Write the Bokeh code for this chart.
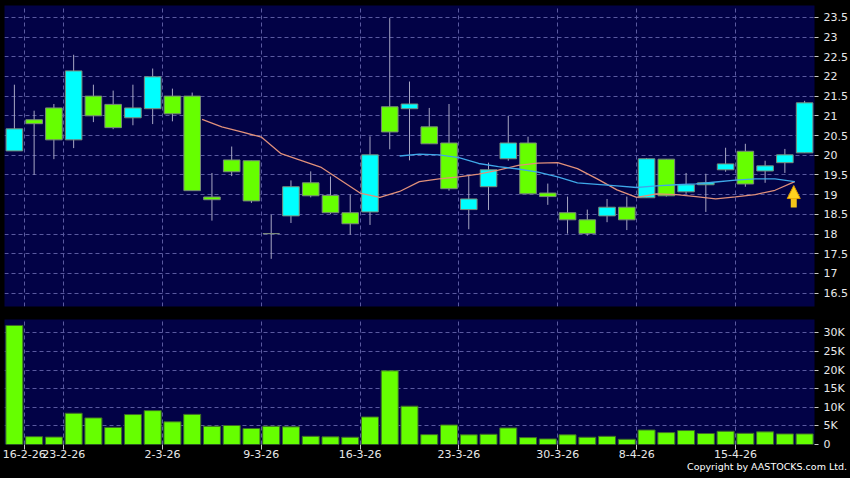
from bokeh.plotting import figure
from bokeh.layouts import column
from bokeh.models import (ColumnDataSource, FixedTicker, Range1d, Arrow, NormalHead,
                          LinearAxis, GlobalInlineStyleSheet)
from bokeh.embed import file_html
from bokeh.resources import INLINE

# ---------------- data ----------------
tick_bars = [1, 3, 8, 13, 18, 23, 28, 32, 37]
tick_labels = ["16-2-26", "23-2-26", "2-3-26", "9-3-26", "16-3-26",
               "23-3-26", "30-3-26", "8-4-26", "15-4-26"]

opens = [20.11, 20.90, 21.20, 20.39, 21.50, 21.29, 20.95, 21.18, 21.50, 21.50,
         18.94, 19.88, 19.86, 18.01, 18.46, 19.30, 18.98, 18.54, 18.56, 21.23,
         21.18, 20.72, 20.31, 18.62, 19.20, 19.91, 20.31, 19.04, 18.54, 18.36,
         18.46, 18.68, 18.92, 19.90, 19.07, 19.25, 19.63, 20.10, 19.60, 19.81,
         20.06]
closes = [20.67, 20.80, 20.39, 22.14, 21.00, 20.70, 21.20, 21.99, 21.05, 19.10,
          18.87, 19.58, 18.84, 18.01, 19.20, 18.97, 18.54, 18.26, 20.01, 20.59,
          21.30, 20.29, 19.15, 18.89, 19.63, 20.31, 19.02, 18.95, 18.36, 18.01,
          18.68, 18.36, 19.91, 18.97, 19.25, 19.30, 19.78, 19.27, 19.73, 20.01,
          21.33]
highs = [21.79, 21.13, 21.30, 22.55, 21.79, 21.64, 21.79, 22.20, 21.69, 21.59,
         19.55, 20.22, 19.86, 18.49, 19.36, 19.59, 19.46, 19.00, 20.48, 23.48,
         21.87, 21.20, 21.30, 19.48, 19.81, 21.00, 20.47, 19.28, 18.95, 18.62,
         18.89, 18.95, 19.93, 19.90, 19.55, 19.53, 20.19, 20.29, 19.86, 20.16,
         21.38]
lows = [20.11, 19.50, 19.90, 20.18, 20.84, 20.66, 20.76, 20.79, 20.86, 19.10,
        18.34, 19.47, 18.79, 17.37, 18.28, 18.93, 18.51, 17.98, 18.23, 20.15,
        19.87, 20.29, 19.10, 18.12, 18.61, 19.86, 19.02, 18.74, 18.01, 17.96,
        18.30, 18.10, 18.92, 18.95, 19.02, 18.56, 19.58, 19.20, 19.30, 19.55,
        20.06]
volumes = [32000, 2100, 2000, 8400, 7150, 4600, 8050, 9100, 6100, 8100,
           4900, 5100, 4300, 4900, 4750, 2200, 2050, 1950, 7400, 19800,
           10300, 2650, 5250, 2600, 2750, 4450, 1850, 1500, 2600, 1950,
           2200, 1400, 3900, 3200, 3750, 2950, 3550, 3000, 3400, 2850,
           2850]

ma10_start = 10
ma10 = [20.91, 20.72, 20.59, 20.46, 20.04, 19.87, 19.70, 19.37, 19.04, 18.93,
        19.08, 19.33, 19.40, 19.45, 19.52, 19.62, 19.74, 19.80, 19.81, 19.66,
        19.40, 19.12, 18.93, 19.02, 19.00, 18.95, 18.89, 18.94, 19.00, 19.11,
        19.33]
ma20_start = 20
ma20 = [19.98, 20.03, 20.01, 19.94, 19.79, 19.71, 19.65, 19.57, 19.45, 19.30,
        19.26, 19.22, 19.18, 19.22, 19.25, 19.27, 19.32, 19.37, 19.40, 19.40,
        19.33]

price_ticks = [16.5, 17.0, 17.5, 18.0, 18.5, 19.0, 19.5, 20.0, 20.5, 21.0,
               21.5, 22.0, 22.5, 23.0, 23.5]
vol_ticks = [0, 5000, 10000, 15000, 20000, 25000, 30000]
vol_tick_labels = ["0", "5K", "10K", "15K", "20K", "25K", "30K"]

signal_bar = 39
signal_low, signal_tip = 18.67, 19.23

copyright_text = "Copyright by AASTOCKS.com Ltd."

# ---------------- styling ----------------
BG = "#020246"
GRID = "#5A5AA0"
UP = "#00FFFF"
DOWN = "#66FF00"
WICK = "#A8A8C4"
EDGE = "#7A8A7A"
TXT = "#E8E8E8"
FONT = "DejaVu Sans"

W = 850
LEFT = 4
RIGHT = 36
FRAME_W = W - LEFT - RIGHT
PRICE_TOP = 5
PRICE_FRAME_H = 301
GAP = 13
VOL_FRAME_H = 125
VOL_BOTTOM = 34
n = len(opens)
xr = Range1d(-0.5, n - 0.5)

idx = list(range(n))
cols = [UP if c > o else DOWN for o, c in zip(opens, closes)]
src = ColumnDataSource(dict(
    x=idx, top=[max(o, c) for o, c in zip(opens, closes)],
    bottom=[min(o, c) for o, c in zip(opens, closes)],
    high=highs, low=lows, color=cols, vol=volumes))

grid_ticks = [b - 0.5 for b in tick_bars]


def style(p):
    p.background_fill_color = BG
    p.border_fill_color = "black"
    p.outline_line_color = None
    for g in (p.xgrid, p.ygrid):
        g.grid_line_color = GRID
        g.grid_line_dash = "4 3"
        g.grid_line_width = 1
    p.xgrid.ticker = FixedTicker(ticks=grid_ticks)
    ax = p.yaxis[0]
    ax.axis_line_color = None
    ax.major_tick_line_color = "#C8C8C8"
    ax.major_tick_out = 4
    ax.major_tick_in = 0
    ax.minor_tick_line_color = None
    ax.major_label_text_color = TXT
    ax.major_label_text_font = FONT
    ax.major_label_text_font_size = "11px"
    ax.major_label_standoff = 5


# ---------------- price panel ----------------
p1 = figure(width=W, height=PRICE_TOP + PRICE_FRAME_H + GAP, x_range=xr,
            y_range=Range1d(16.16, 23.80),
            output_backend="svg", toolbar_location=None, x_axis_location=None,
            y_axis_location="right", min_border_left=LEFT, min_border_top=PRICE_TOP,
            min_border_right=RIGHT, min_border_bottom=GAP)
style(p1)
p1.yaxis.ticker = FixedTicker(ticks=price_ticks)
p1.yaxis.major_label_overrides = {t: ("%g" % t) for t in price_ticks}

p1.segment(x0="x", y0="low", x1="x", y1="high", source=src, line_color=WICK, line_width=1)
p1.vbar(x="x", top="top", bottom="bottom", width=0.84, source=src,
        fill_color="color", line_color=EDGE, line_width=1)

p1.line([i - 0.5 for i in range(ma10_start, ma10_start + len(ma10))], ma10,
        line_color="#E0907A", line_width=1.3)
p1.line([i - 0.5 for i in range(ma20_start, ma20_start + len(ma20))], ma20,
        line_color="#3FA8E8", line_width=1.3)

p1.add_layout(Arrow(end=NormalHead(size=13, fill_color="#FFD21F", line_color="#E09A00", line_width=1),
                    x_start=signal_bar + 0.45, y_start=signal_low,
                    x_end=signal_bar + 0.45, y_end=signal_tip,
                    line_color="#F5C518", line_width=6))

# ---------------- volume panel ----------------
p2 = figure(width=W, height=VOL_FRAME_H + VOL_BOTTOM, x_range=xr, y_range=Range1d(0, 33600),
            output_backend="svg", toolbar_location=None,
            y_axis_location="right", min_border_left=LEFT, min_border_top=0,
            min_border_right=RIGHT, min_border_bottom=VOL_BOTTOM)
style(p2)
p2.yaxis.ticker = FixedTicker(ticks=vol_ticks)
p2.yaxis.major_label_overrides = dict(zip(vol_ticks, vol_tick_labels))

p2.vbar(x="x", top="vol", bottom=0, width=0.86, source=src,
        fill_color=DOWN, line_color="#3E6A2A", line_width=1)

xa = p2.xaxis[0]
xa.ticker = FixedTicker(ticks=grid_ticks)
xa.major_label_overrides = dict(zip(grid_ticks, tick_labels))
xa.axis_line_color = None
xa.major_tick_line_color = "#C8C8C8"
xa.major_tick_out = 5
xa.major_tick_in = 0
xa.minor_tick_line_color = None
xa.major_label_text_color = TXT
xa.major_label_text_font = FONT
xa.major_label_text_font_size = "11px"
xa.major_label_standoff = 0

# copyright note as a single label on a second, tick-less bottom axis,
# centred so that its right end sits ~4px inside the canvas edge
note_width_px = 159
slot_px = FRAME_W / n
note_pos = (n - 0.5) + (RIGHT - 4 - note_width_px / 2) / slot_px
note_axis = LinearAxis(ticker=FixedTicker(ticks=[note_pos]),
                       major_label_overrides={note_pos: copyright_text},
                       axis_line_color=None, major_tick_line_color=None,
                       major_tick_out=0, major_tick_in=0,
                       minor_tick_line_color=None, major_label_standoff=0,
                       major_label_text_color="#FFFFFF", major_label_text_font=FONT,
                       major_label_text_font_size="9.5px")
p2.add_layout(note_axis, "below")

layout = column(p1, p2, spacing=0,
                stylesheets=[GlobalInlineStyleSheet(css="body { background: #000000; }")])

open("out.html", "w").write(file_html(layout, INLINE))
